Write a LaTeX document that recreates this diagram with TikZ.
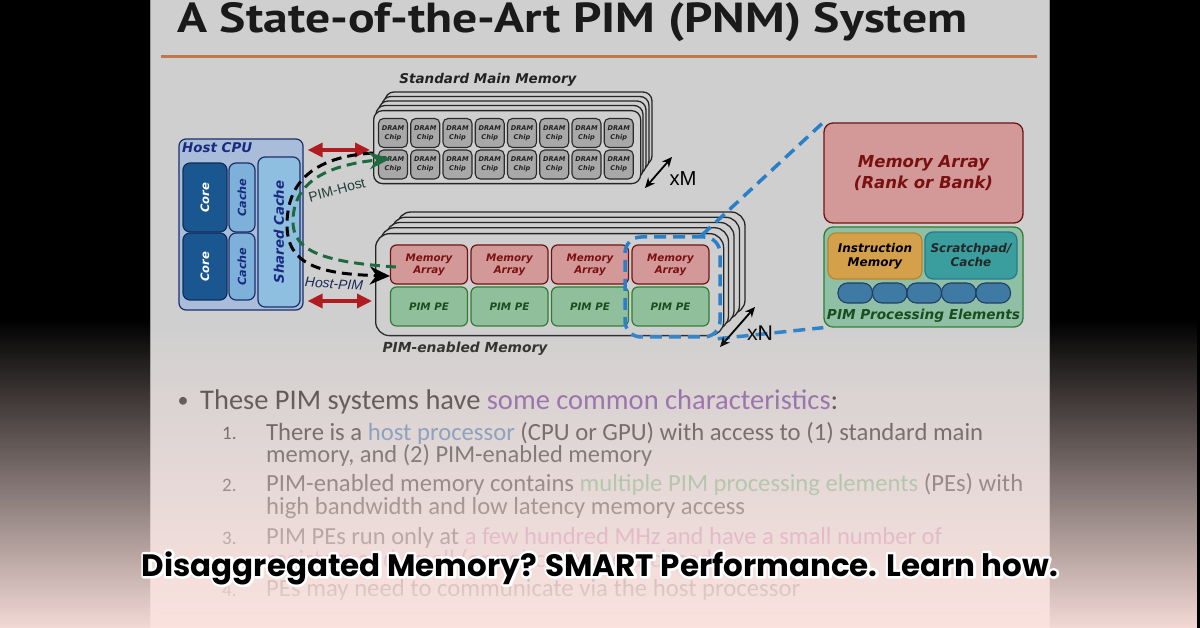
\documentclass[tikz,border=0pt]{standalone}
\usepackage{fontspec}
\setmainfont{Carlito}
\newfontfamily\dvs{DejaVu Sans}[BoldFont={DejaVu Sans Bold},ItalicFont={DejaVu Sans Oblique},BoldItalicFont={DejaVu Sans Bold Oblique}]
\newfontfamily\libs{Liberation Sans}
\newfontfamily\pts{PT Sans}
\newfontfamily\pops{Poppins}
\usepackage{graphicx}
\usetikzlibrary{arrows.meta,fadings,calc}
\newcommand{\fw}[2]{\resizebox{#1pt}{!}{#2}}
\newcommand{\outl}[1]{\special{pdf:literal direct 1 Tr 4.6 w 1 j}#1\special{pdf:literal direct 0 Tr}}
\definecolor{slidebg}{HTML}{CFCFCF}
\definecolor{slideedge}{HTML}{9A9A9A}
\definecolor{titlec}{HTML}{1A1A1A}
\definecolor{orangec}{HTML}{C0784A}
\definecolor{cpufill}{HTML}{A9BCD9}
\definecolor{cpuline}{HTML}{1B2F6B}
\definecolor{corefill}{HTML}{1A5690}
\definecolor{coreline}{HTML}{0E2F5C}
\definecolor{cachefill}{HTML}{7DB1D9}
\definecolor{sharedfill}{HTML}{8EBFE0}
\definecolor{navyc}{HTML}{1A2A80}
\definecolor{chipfill}{HTML}{A8A8A8}
\definecolor{chipline}{HTML}{2A2A2A}
\definecolor{mafill}{HTML}{D39999}
\definecolor{maline}{HTML}{6E1414}
\definecolor{matext}{HTML}{7A1010}
\definecolor{pefill}{HTML}{90BF9C}
\definecolor{peline}{HTML}{2E7D32}
\definecolor{petext}{HTML}{1B4D1E}
\definecolor{bigpefill}{HTML}{8FBFA5}
\definecolor{instfill}{HTML}{D4A04A}
\definecolor{instline}{HTML}{B8862E}
\definecolor{scrfill}{HTML}{3A9E9E}
\definecolor{scrline}{HTML}{2A7A8A}
\definecolor{pillfill}{HTML}{3F7AA5}
\definecolor{pillline}{HTML}{1E3F66}
\definecolor{redc}{HTML}{B01C22}
\definecolor{greenc}{HTML}{1E6A3E}
\definecolor{bluec}{HTML}{2A80C8}
\definecolor{bodyc}{HTML}{303030}
\definecolor{purpc}{HTML}{7B4F9D}
\definecolor{hostc}{HTML}{4F7FAE}
\definecolor{grnc}{HTML}{6AAA7A}
\definecolor{rosec}{HTML}{B06A9A}
\definecolor{pinkov}{HTML}{FDE3DF}
\definecolor{lblc}{HTML}{222222}
\definecolor{pimhostc}{HTML}{24403A}
\definecolor{hostpimc}{HTML}{1C2A55}
\tikzfading[name=fadeY, top color=transparent!100, bottom color=transparent!4]
\begin{document}
\begin{tikzpicture}[x=1pt,y=-1pt,
  lbl/.style={inner sep=0pt, font=\dvs\bfseries\itshape, text=lblc},
  stackbox/.style={draw=black!85, line width=1.3pt, fill=slidebg, inner sep=0pt},
  chip/.style={draw=chipline, fill=chipfill, line width=1.1pt, rounded corners=5pt, minimum width=29pt, minimum height=29pt, inner sep=0pt, align=center, text=lblc, font=\dvs\bfseries\itshape\fontsize{6.6}{8.6}\selectfont},
  cpubox/.style={line width=1.2pt, rounded corners=7pt, inner sep=0pt, font=\dvs\bfseries\itshape},
  mabox/.style={draw=maline, fill=mafill, line width=1.2pt, rounded corners=6pt, minimum width=77pt, minimum height=39pt, inner sep=0pt, align=center, text=matext, font=\dvs\bfseries\itshape\fontsize{10.3}{11.8}\selectfont},
  pebox/.style={draw=peline, fill=pefill, line width=1.2pt, rounded corners=6pt, minimum width=77pt, minimum height=39pt, inner sep=0pt, align=center, text=petext, font=\dvs\bfseries\itshape\fontsize{10.3}{11.8}\selectfont},
  redarr/.style={draw=redc, line width=3.4pt, {Triangle[length=15pt,width=14pt]}-{Triangle[length=15pt,width=14pt]}},
  dblarr/.style={draw=black, line width=1.8pt, {Stealth[length=10pt,width=9pt]}-{Stealth[length=10pt,width=9pt]}},
  hostpim/.style={draw=black, line width=3pt, dash pattern=on 10pt off 6pt, -{Stealth[length=20pt,width=18pt]}},
  pimhost/.style={draw=greenc, line width=3pt, dash pattern=on 10pt off 6pt, -{Stealth[length=22pt,width=17pt]}},
  bluedash/.style={draw=bluec, line width=3.5pt, dash pattern=on 12pt off 7pt},
  btxt/.style={inner sep=0pt, anchor=west, text=bodyc, font=\fontsize{25}{30}\selectfont},
  numtxt/.style={inner sep=0pt, anchor=west, text=bodyc, font=\fontsize{19}{23}\selectfont}
]
\useasboundingbox (0,0) rectangle (1200,628);
\fill[black] (0,0) rectangle (1200,628);
\fill[slidebg] (150,0) rectangle (1049,628);
\draw[slideedge, line width=0.8pt] (150,0) -- (150,628) (1049,0) -- (1049,628);
% title
\node[anchor=base west, inner sep=0pt, text=titlec, font=\pts\bfseries\fontsize{40}{48}\selectfont] (title) at (177,33) {\resizebox{790pt}{30pt}{A State-of-the-Art PIM (PNM) System}};
\draw[orangec, line width=3pt] (161,57) -- (1037,57);
% standard main memory
\node[lbl] (smmlbl) at (488,80) {\fw{177}{Standard Main Memory}};
\foreach \k in {4,3,2,1} \draw[stackbox, rounded corners=9pt] (373+3*\k,110-4.5*\k) rectangle ++(267,73);
\node[stackbox, rounded corners=9pt, minimum width=267pt, minimum height=73pt, anchor=north west] (smm) at (373,110) {};
\foreach \i in {0,...,7} \foreach \j in {0,1} \node[chip] (chip\i\j) at (393+32.25*\i,133+31.5*\j) {DRAM\\Chip};
% xM
\coordinate (xma) at (645,188);
\coordinate (xmb) at (672,157);
\draw[dblarr] (xma) -- (xmb);
\node[inner sep=0pt, font=\libs, text=black] (xm) at (683,179) {\fw{27}{xM}};
% host CPU
\node[cpubox, draw=cpuline, fill=cpufill, minimum width=124pt, minimum height=171pt] (host) at (241,224.5) {};
\node[lbl, text=navyc, anchor=west] (hostlbl) at (182,148) {\fw{70}{Host CPU}};
\node[cpubox, draw=coreline, fill=corefill, text=white, minimum width=69pt, minimum height=44pt, rotate=90] (core1) at (205,197.5) {\fw{30}{Core}};
\node[cpubox, draw=coreline, fill=corefill, text=white, minimum width=67pt, minimum height=44pt, rotate=90] (core2) at (205,266.5) {\fw{30}{Core}};
\node[cpubox, draw=cpuline, fill=cachefill, text=navyc, minimum width=69pt, minimum height=26pt, rotate=90] (cache1) at (242,197.5) {\fw{38}{Cache}};
\node[cpubox, draw=cpuline, fill=cachefill, text=navyc, minimum width=67pt, minimum height=26pt, rotate=90] (cache2) at (242,266.5) {\fw{38}{Cache}};
\node[cpubox, draw=cpuline, fill=sharedfill, text=navyc, minimum width=150pt, minimum height=42pt, rotate=90] (shared) at (279,232) {\fw{103}{Shared Cache}};
% PIM-enabled memory
\foreach \k in {4,3,2,1} \draw[stackbox, rounded corners=14pt] (375+5.5*\k,233-5.25*\k) rectangle ++(348,102);
\node[stackbox, rounded corners=14pt, minimum width=348pt, minimum height=102pt, anchor=north west] (pim) at (375,233) {};
\foreach \i in {0,...,3} {
  \node[mabox] (ma\i) at (429+80.5*\i,264.5) {Memory\\Array};
  \node[pebox] (pe\i) at (429+80.5*\i,306.5) {PIM PE};
}
\node[lbl] (pimlbl) at (465,349) {\fw{165}{PIM-enabled Memory}};
% red arrows
\draw[redarr, shorten <=4pt, shorten >=3pt] (host.east |- 0,150) -- (smm.west |- 0,150);
\draw[redarr, shorten <=4pt, shorten >=3pt] (host.east |- 0,301) -- (pim.west |- 0,301);
% right detail
\node[draw=maline, fill=mafill, line width=1.3pt, rounded corners=9pt, minimum width=199pt, minimum height=100pt, inner sep=0pt, align=center, text=matext, font=\dvs\bfseries\itshape\fontsize{16.5}{21}\selectfont] (bigma) at (923.5,173) {Memory Array\\(Rank or Bank)};
\node[draw=peline, fill=bigpefill, line width=1.3pt, rounded corners=9pt, minimum width=199pt, minimum height=100pt, inner sep=0pt] (bigpe) at (923.5,277) {};
\node[draw=instline, fill=instfill, line width=1.3pt, rounded corners=8pt, minimum width=94pt, minimum height=46pt, inner sep=0pt, align=center, text=black, font=\dvs\bfseries\itshape\fontsize{12}{14}\selectfont] (inst) at (875,256) {Instruction\\Memory};
\node[draw=scrline, fill=scrfill, line width=1.3pt, rounded corners=8pt, minimum width=92pt, minimum height=47pt, inner sep=0pt, align=center, text=black!85, font=\dvs\bfseries\itshape\fontsize{12}{14}\selectfont] (scr) at (971,255.5) {Scratchpad/\\Cache};
\foreach \p in {0,...,4} \node[draw=pillline, fill=pillfill, line width=1.1pt, rounded corners=9.5pt, minimum width=34.5pt, minimum height=20pt, inner sep=0pt] (pill\p) at (855.25+34.5*\p,293) {};
\node[lbl, text=petext] (pelbl) at (923.5,316) {\fw{193}{PIM Processing Elements}};
% selection
\node[draw=bluec, line width=3.5pt, dash pattern=on 12pt off 7pt, rounded corners=16pt, minimum width=95pt, minimum height=100pt, inner sep=0pt] (sel) at (672.5,287) {};
\draw[bluedash] ([xshift=-20pt]sel.north east) -- (bigma.north west);
\draw[bluedash] ([xshift=-4pt]sel.south east) -- (bigpe.south west);
% xN
\coordinate (xna) at (720,347);
\coordinate (xnb) at (755,307);
\draw[dblarr] (xna) -- (xnb);
\node[inner sep=0pt, font=\libs, text=black] (xn) at (760,333) {\fw{26}{xN}};
% dashed flows
\draw[hostpim] (smm.west |- 0,153) .. controls (310,157) and (287,185) .. (287,225) .. controls (287,265) and (320,274) .. (ma0.west |- 0,276);
\draw[pimhost] ([xshift=6pt]ma0.west |- 0,267) .. controls (320,262) and (292,250) .. (293,220) .. controls (294,180) and (330,165) .. ($(chip01.west)+(13,-6)$);
\node[inner sep=0pt, font=\libs, text=pimhostc, rotate=15] (pimhostlbl) at (337,190) {\fw{58}{PIM-Host}};
\node[inner sep=0pt, font=\libs\itshape, text=hostpimc, rotate=-4] (hostpimlbl) at (334,284) {\fw{58}{Host-PIM}};
% bullets
\node[inner sep=0pt, text=bodyc, font=\fontsize{22}{26}\selectfont] (bul) at (183,402) {•};
\node[btxt] (b0) at (200,402) {\fw{638}{These PIM systems have \textcolor{purpc}{some common characteristics}:}};
\node[numtxt] (n1) at (222,433) {1.};
\node[btxt] (l1) at (266,433) {\fw{717}{There is a \textcolor{hostc}{host processor} (CPU or GPU) with access to (1) standard main}};
\node[btxt] (l2) at (266,456) {\fw{386}{memory, and (2) PIM-enabled memory}};
\node[numtxt] (n2) at (222,485) {2.};
\node[btxt] (l3) at (266,485) {\fw{757}{PIM-enabled memory contains \textcolor{grnc}{multiple PIM processing elements} (PEs) with}};
\node[btxt] (l4) at (266,508) {\fw{479}{high bandwidth and low latency memory access}};
\node[numtxt] (n3) at (222,538) {3.};
\node[btxt] (l5) at (266,538) {\fw{676}{PIM PEs run only at \textcolor{rosec}{a few hundred MHz and have a small number of}}};
\node[btxt] (l6) at (266,561) {\fw{446}{\textcolor{rosec}{registers and small (or no) cache/scratchpad}}};
\node[numtxt] (n4) at (222,590) {4.};
\node[btxt] (l7) at (266,590) {\fw{534}{PEs may need to communicate via the host processor}};
\draw[black!30, line width=0.8pt] (160,613) -- (1040,613);
% overlay gradient
\fill[pinkov, path fading=fadeY, fit fading=true] (0,318) rectangle (1200,628);
% caption
\node[inner sep=0pt, text=white, font=\pops\bfseries\fontsize{28}{34}\selectfont] (capo) at (600,568) {\fw{916}{\outl{Disaggregated Memory? SMART Performance. Learn how.}}};
\node[inner sep=0pt, text=black, font=\pops\bfseries\fontsize{28}{34}\selectfont] (cap) at (600,568) {\fw{916}{Disaggregated Memory? SMART Performance. Learn how.}};
\end{tikzpicture}
\end{document}
